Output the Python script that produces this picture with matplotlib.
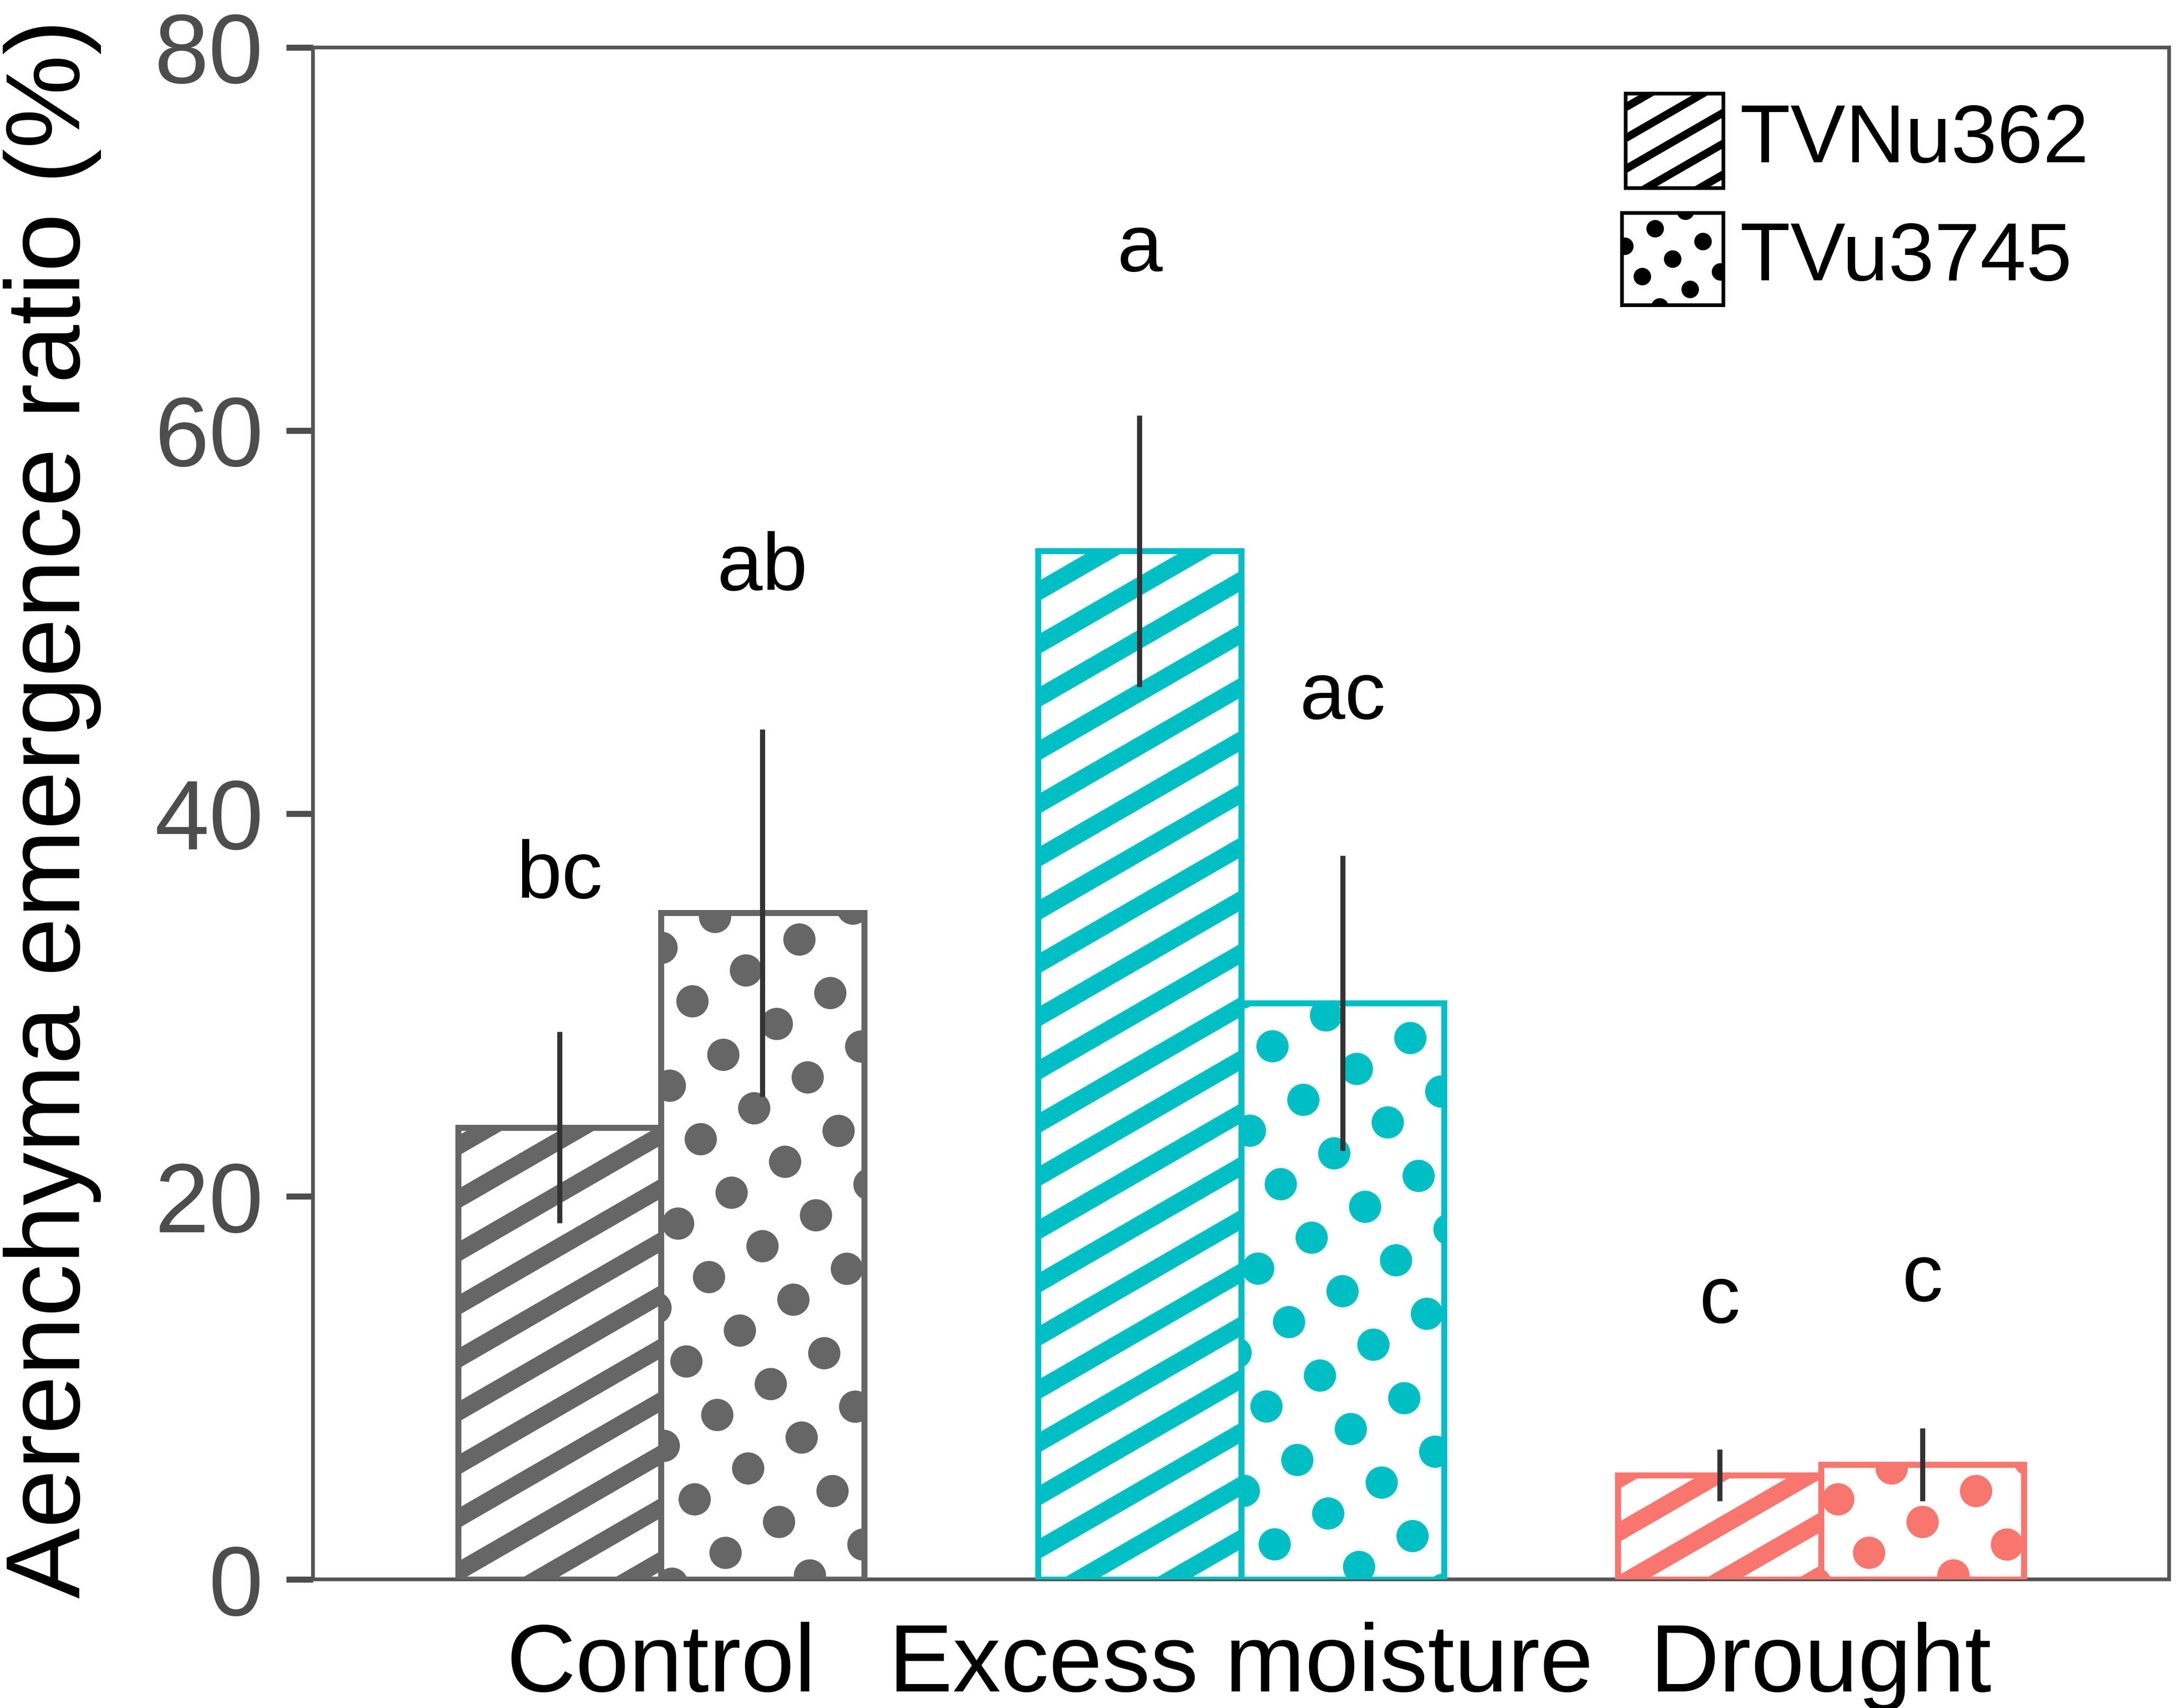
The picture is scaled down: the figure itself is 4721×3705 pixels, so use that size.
import numpy as np
import matplotlib
matplotlib.use("Agg")
import matplotlib.pyplot as plt
from matplotlib.patches import Rectangle, Circle
from matplotlib.lines import Line2D
from matplotlib.transforms import IdentityTransform, Bbox

# data
conditions = ["Control", "Excess moisture", "Drought"]
genotypes = ["TVNu362", "TVu3745"]
mean_tvnu362 = [23.6, 53.7, 5.45]
mean_tvu3745 = [34.8, 30.1, 6.0]
se_tvnu362 = [5.0, 7.1, 1.35]
se_tvu3745 = [9.6, 7.7, 1.9]
letters_tvnu362 = ["bc", "a", "c"]
letters_tvu3745 = ["ab", "ac", "c"]
cond_colors = ["#666666", "#00BFC4", "#F8766D"]

DPI = 300
W, H = 4721, 3705
plt.rcParams["font.family"] = ["Liberation Sans", "DejaVu Sans"]

def px2pt(v):
    return v * 72.0 / DPI

def stripes(host, clip, bb, color, spacing, width, angle=30, zorder=2.5):
    # diagonal stripe texture in pixel space, clipped to the bar
    a = np.deg2rad(angle)
    d = np.array([np.cos(a), np.sin(a)])
    n = np.array([-np.sin(a), np.cos(a)])
    c = np.array([(bb.x0 + bb.x1) / 2, (bb.y0 + bb.y1) / 2])
    R = np.hypot(bb.width, bb.height)
    k = int(R / spacing) + 2
    for i in range(-k, k + 1):
        p = c + i * spacing * n
        p0, p1 = p - R * d, p + R * d
        ln = Line2D([p0[0], p1[0]], [p0[1], p1[1]], transform=IdentityTransform(),
                    color=color, lw=px2pt(width), solid_capstyle="butt", zorder=zorder)
        host.add_artist(ln)
        ln.set_clip_path(clip)

def dots(host, clip, bb, color, spacing, radius, angle=30, zorder=2.5):
    a = np.deg2rad(angle)
    u = spacing * np.array([np.cos(a), np.sin(a)])
    v = spacing * np.array([-np.sin(a), np.cos(a)])
    c = np.array([(bb.x0 + bb.x1) / 2, (bb.y0 + bb.y1) / 2])
    k = int(np.hypot(bb.width, bb.height) / spacing) + 2
    for i in range(-k, k + 1):
        for j in range(-k, k + 1):
            p = c + i * u + j * v
            if bb.x0 - radius < p[0] < bb.x1 + radius and bb.y0 - radius < p[1] < bb.y1 + radius:
                ci = Circle(p, radius, transform=IdentityTransform(), facecolor=color,
                            edgecolor="none", zorder=zorder)
                host.add_artist(ci)
                ci.set_clip_path(clip)

fig = plt.figure(figsize=(W / DPI, H / DPI), dpi=DPI, facecolor="white")
ax = fig.add_axes([679 / W, 1 - 3426 / H, (4706 - 679) / W, (3426 - 103) / H])
ax.set_xlim(-0.6, 2.6)
ax.set_ylim(0, 80)

x = np.arange(len(conditions))
bw = 0.35
series = [
    (x - bw / 2, mean_tvnu362, se_tvnu362, letters_tvnu362, "stripes"),
    (x + bw / 2, mean_tvu3745, se_tvu3745, letters_tvu3745, "dots"),
]
edge_lw = px2pt(13)
for xs, means, ses, letters, kind in series:
    bars = ax.bar(xs, means, width=bw, facecolor="white", edgecolor=cond_colors,
                  linewidth=edge_lw, zorder=2)
    ax.bar(xs, means, width=bw, facecolor="none", edgecolor=cond_colors,
           linewidth=edge_lw, zorder=3)
    for b, col in zip(bars, cond_colors):
        bb = b.get_window_extent()
        if kind == "stripes":
            stripes(ax, b, bb, col, spacing=100, width=38)
        else:
            dots(ax, b, bb, col, spacing=134, radius=35)
    ax.errorbar(xs, means, yerr=ses, fmt="none", ecolor="#333333",
                elinewidth=px2pt(11), capsize=0, zorder=4)
    for xi, m, s, lab in zip(xs, means, ses, letters):
        top = m + s
        ax.text(xi, top * 1.017 + 6.5, lab, ha="center", va="baseline",
                fontsize=42.5, color="black")

ax.set_xticks(x)
ax.set_xticklabels(conditions)
ax.set_yticks([0, 20, 40, 60, 80])
ax.tick_params(axis="x", length=0, pad=22, labelsize=50, labelcolor="black")
ax.tick_params(axis="y", length=px2pt(58), width=px2pt(13), pad=12, labelsize=51,
               labelcolor="#4D4D4D", color="#4D4D4D")
for sp in ax.spines.values():
    sp.set_edgecolor("#555555")
    sp.set_linewidth(px2pt(8))
ax.set_ylabel("Aerenchyma emergence ratio (%)", fontsize=55, color="black")
ax.yaxis.set_label_coords(-0.114, 0.503)

# legend keys drawn in figure pixels
key_specs = [
    (genotypes[0], 3527, 3297, 212, 205, "stripes"),
    (genotypes[1], 3519, 3043, 220, 200, "dots"),
]
for label, kx, ky, kw, kh, kind in key_specs:
    rect = Rectangle((kx, ky), kw, kh, transform=IdentityTransform(), facecolor="white",
                     edgecolor="none", zorder=5)
    ax.add_artist(rect)
    bb = Bbox.from_bounds(kx, ky, kw, kh)
    if kind == "stripes":
        stripes(ax, rect, bb, "black", spacing=58, width=17, zorder=6)
    else:
        dots(ax, rect, bb, "black", spacing=76, radius=19, zorder=6)
    frame = Rectangle((kx, ky), kw, kh, transform=IdentityTransform(), facecolor="none",
                      edgecolor="black", linewidth=px2pt(8), zorder=7)
    ax.add_artist(frame)
    fig.text(3775 / W, (ky + kh / 2) / H, label, ha="left", va="center",
             fontsize=43, color="black")

fig.savefig("out.png", dpi=DPI, facecolor="white")
